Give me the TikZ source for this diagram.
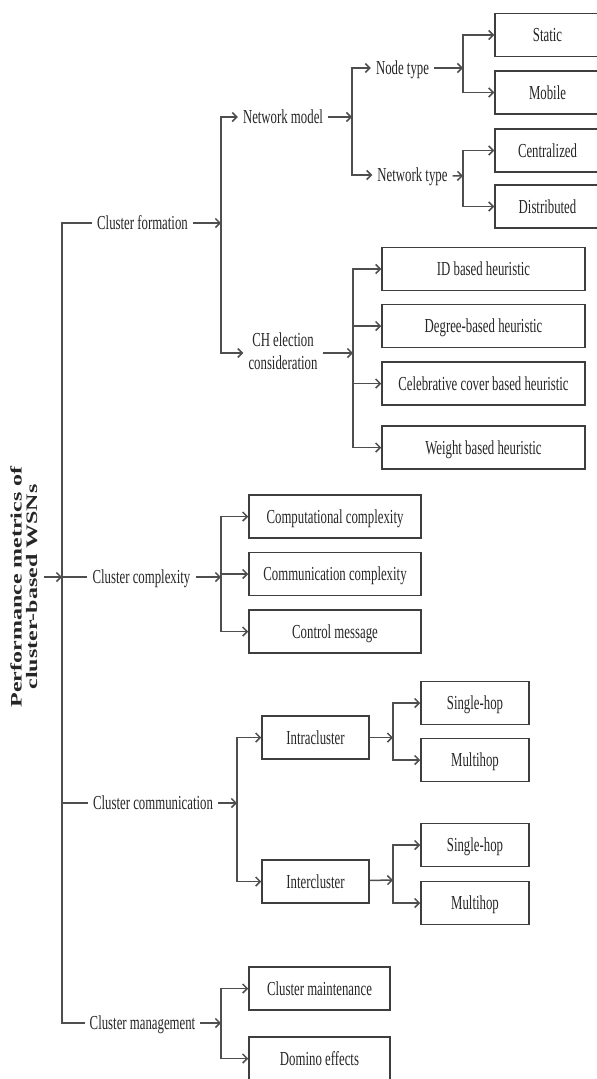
\documentclass[tikz,border=0pt]{standalone}
\usepackage{fontspec}
\setmainfont{Liberation Serif}
\usepackage{graphicx}
\usepackage{xcolor}
\usetikzlibrary{arrows.meta}
\definecolor{TreeLine}{RGB}{78,78,78}
\definecolor{BoxEdge}{RGB}{62,62,62}
\definecolor{LabelInk}{RGB}{38,38,38}
\newcommand{\tallText}[1]{\scalebox{1}[1.55]{#1}}

\begin{document}
\begin{tikzpicture}[x=1pt,y=-1pt,>={Straight Barb[length=4.5pt,width=9pt]},
  rama/.style={draw=TreeLine,line width=1.5pt},
  ink/.style={text=LabelInk,font=\fontsize{12.8}{14.8}\selectfont},
  txt/.style={ink,inner xsep=5pt,inner ysep=0pt,text height=13.5pt,text depth=0pt},
  leaf/.style={txt,draw=BoxEdge,line width=1.5pt,minimum width=#1,minimum height=43pt}]
  \useasboundingbox (0,0) rectangle (597,1079);
  % root label
  \node[rotate=90,text=LabelInk,font=\fontsize{16}{15}\selectfont\bfseries,inner sep=2pt] (root) at (26,587)
    {\scalebox{1.5}[1]{\begin{tabular}{@{}c@{}}Performance metrics of\\cluster-based WSNs\end{tabular}}};
  \coordinate (trunk) at (62,577);
  % first level
  \node[txt] (cf) at (142.5,223) {\tallText{Cluster formation}};
  \node[txt] (cx) at (141.5,577) {\tallText{Cluster complexity}};
  \node[txt] (cc) at (153,803) {\tallText{Cluster communication}};
  \node[txt] (cm) at (142.5,1023) {\tallText{Cluster management}};
  \draw[rama,->] (root.south |- trunk) -- (trunk);
  \draw[rama] (cf.west) -| (trunk) |- (cm.west);
  \draw[rama] (trunk) -- (cx.west);
  \draw[rama] (trunk |- cc) -- (cc.west);
  % cluster formation
  \node[txt] (nm) at (283,117) {\tallText{Network model}};
  \node[ink,inner xsep=5pt] (ch) at (283,353)
    {\tallText{\begin{tabular}{@{}c@{}}CH election\\consideration\end{tabular}}};
  \coordinate (fb) at (221,223);
  \draw[rama,->] (cf) -- (fb);
  \draw[rama,->] (fb) |- (nm);
  \draw[rama,->] (fb) |- (ch);
  \node[txt] (nt) at (402.5,68) {\tallText{Node type}};
  \node[txt] (nwt) at (412.5,175) {\tallText{Network type}};
  \coordinate (nmb) at (352,117);
  \draw[rama,->] (nm) -- (nmb);
  \draw[rama,->] (nmb) |- (nt);
  \draw[rama,->] (nmb) |- (nwt);
  \node[leaf=105pt] (st) at (547.5,35) {\tallText{Static}};
  \node[leaf=105pt] (mo) at (547.5,92.5) {\tallText{Mobile}};
  \node[leaf=105pt] (ce) at (547.5,150.5) {\tallText{Centralized}};
  \node[leaf=105pt] (di) at (547.5,206.5) {\tallText{Distributed}};
  \coordinate (ntb) at (463,68);
  \coordinate (nwb) at (463,176);
  \draw[rama,->] (nt) -- (ntb);
  \draw[rama,->] (ntb) |- (st);
  \draw[rama,->] (ntb) |- (mo);
  \draw[rama,->] (nwt) -- (nwb);
  \draw[rama,->] (nwb) |- (ce);
  \draw[rama,->] (nwb) |- (di);
  \node[leaf=203pt] (idh) at (483.5,269) {\tallText{ID based heuristic}};
  \node[leaf=203pt] (dgh) at (483.5,326) {\tallText{Degree-based heuristic}};
  \node[leaf=203pt] (cbh) at (483.5,383.5) {\tallText{Celebrative cover based heuristic}};
  \node[leaf=203pt] (wth) at (483.5,447.5) {\tallText{Weight based heuristic}};
  \coordinate (chb) at (353,353);
  \draw[rama,->] (ch) -- (chb);
  \foreach \n in {idh,dgh,cbh,wth}
    \draw[rama,->] (chb) |- (\n);
  % cluster complexity
  \node[leaf=172pt] (cpt) at (335,516.5) {\tallText{Computational complexity}};
  \node[leaf=172pt] (cmx) at (335,574) {\tallText{Communication complexity}};
  \node[leaf=172pt] (ctl) at (335,631.5) {\tallText{Control message}};
  \coordinate (cxb) at (221,577);
  \draw[rama,->] (cx) -- (cxb);
  \foreach \n in {cpt,cmx,ctl}
    \draw[rama,->] (cxb) |- (\n);
  % cluster communication
  \node[leaf=107pt] (ia) at (315.5,737.5) {\tallText{Intracluster}};
  \node[leaf=107pt] (ie) at (315.5,881.5) {\tallText{Intercluster}};
  \coordinate (ccb) at (237,803);
  \draw[rama,->] (cc) -- (ccb);
  \draw[rama,->] (ccb) |- (ia);
  \draw[rama,->] (ccb) |- (ie);
  \node[leaf=108pt] (sh1) at (475,703) {\tallText{Single-hop}};
  \node[leaf=108pt] (mh1) at (475,760) {\tallText{Multihop}};
  \node[leaf=108pt] (sh2) at (475,845) {\tallText{Single-hop}};
  \node[leaf=108pt] (mh2) at (475,903) {\tallText{Multihop}};
  \coordinate (iab) at (393,737.5);
  \coordinate (ieb) at (393,880);
  \draw[rama,->] (ia) -- (iab);
  \draw[rama,->] (iab) |- (sh1);
  \draw[rama,->] (iab) |- (mh1);
  \draw[rama,->] (ie) -- (ieb);
  \draw[rama,->] (ieb) |- (sh2);
  \draw[rama,->] (ieb) |- (mh2);
  % cluster management
  \node[leaf=141pt] (mt) at (319.5,988.5) {\tallText{Cluster maintenance}};
  \node[leaf=141pt] (dm) at (319.5,1058.5) {\tallText{Domino effects}};
  \coordinate (cmb) at (221,1023);
  \draw[rama,->] (cm) -- (cmb);
  \draw[rama,->] (cmb) |- (mt);
  \draw[rama,->] (cmb) |- (dm);
\end{tikzpicture}
\end{document}
